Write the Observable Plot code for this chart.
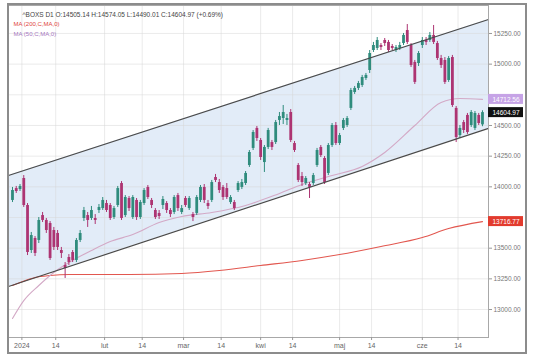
<!DOCTYPE html>
<html><head><meta charset="utf-8">
<script src="https://cdn.jsdelivr.net/npm/d3@7"></script>
<script src="https://cdn.jsdelivr.net/npm/@observablehq/plot@0.6"></script>
<style>
html,body{margin:0;padding:0;background:#fff;}
#wrap{position:relative;width:536px;height:362px;overflow:hidden;}
#frame{position:absolute;left:7px;top:3px;width:520px;height:351px;box-sizing:border-box;border:2px solid #8c8c8c;pointer-events:none;}
</style></head><body>
<div id="wrap"><div id="chart"></div><div id="frame"></div></div>
<script>
// ---- data ----
const open = [13889,13986,13978,14068,13848,13481,13579,13563,13766,13726,
13701,13644,13620,13481,13359,13424,13465,13400,13563,13742,
13766,13742,13742,13807,13823,13864,13848,13750,13848,14027,
13766,13905,13750,13889,13750,13864,13995,13889,13807,13783,
13848,13864,13807,13791,13929,13791,13905,13823,13774,13783,
13889,13995,13864,13889,14076,14035,13995,13986,13872,13872,
13970,13995,14027,14174,14313,14476,14378,14198,14321,14361,
14361,14541,14557,14541,14606,14353,14174,14084,14027,14019,
14027,14174,14321,14231,14109,14337,14500,14353,14476,14500,
14639,14769,14802,14826,14883,14948,15111,15128,15152,15193,
15177,15144,15111,15128,15168,15274,15152,15014,15005,15152,
15193,15193,15234,15168,15046,15030,14867,15054,14639,14418,
14524,14582,14500,14476,14582,14505.14];
const high = [13995,14003,14019,14092,13864,13628,13595,13750,13791,13742,
13717,13669,13644,13506,13383,13448,13481,13579,13644,13832,
13791,13840,13774,13856,13913,13889,13864,13840,14003,14043,
13929,13921,13929,13905,13889,13986,14011,13905,13823,13807,
13921,13880,13823,13929,13946,13848,13921,13921,13791,13929,
14011,14019,13889,14052,14101,14060,14011,14027,13929,13889,
14043,14060,14125,14296,14459,14492,14394,14337,14476,14378,
14541,14606,14663,14590,14630,14370,14190,14117,14084,14035,
14109,14313,14337,14247,14353,14516,14524,14435,14557,14573,
14802,14818,14859,14908,14924,15111,15177,15217,15168,15209,
15193,15160,15152,15177,15250,15323,15168,15030,15103,15217,
15217,15258,15315,15185,15071,15054,15062,15071,14655,14500,
14541,14598,14622,14614,14598,14620];
const low = [13872,13946,13962,13832,13440,13457,13432,13538,13709,13620,
13400,13481,13481,13416,13253,13359,13383,13383,13546,13717,
13669,13726,13693,13783,13807,13791,13726,13734,13832,13726,
13750,13799,13734,13726,13734,13848,13897,13823,13734,13734,
13815,13783,13750,13774,13799,13774,13832,13807,13717,13766,
13872,13864,13815,13872,14035,13946,13889,13897,13856,13807,
13954,13978,14011,14158,14296,14370,14215,14117,14304,14296,
14345,14500,14508,14500,14361,14280,14035,14003,14011,13905,
14011,14158,14239,14019,14092,14321,14337,14337,14459,14484,
14622,14753,14785,14810,14867,14924,15095,15111,15111,15144,
15095,15111,15095,15111,15152,15160,14973,14834,14981,15128,
15152,15177,15160,15030,14965,14834,14851,14647,14361,14394,
14435,14427,14484,14459,14500,14490.01];
const close = [13970,13962,14003,13848,13465,13603,13457,13726,13726,13644,
13416,13506,13506,13457,13334,13383,13400,13563,13620,13807,
13726,13807,13726,13832,13889,13807,13742,13823,13986,13742,
13913,13823,13913,13750,13872,13970,13913,13848,13750,13758,
13897,13807,13774,13913,13823,13823,13848,13905,13750,13913,
13995,13889,13840,14035,14052,13970,13913,13913,13913,13823,
14027,14035,14109,14280,14443,14394,14239,14321,14459,14321,
14524,14573,14606,14557,14378,14296,14052,14035,14068,13995,
14092,14296,14255,14035,14337,14500,14353,14418,14541,14557,
14785,14802,14842,14891,14908,15087,15152,15193,15136,15168,
15111,15128,15136,15152,15234,15177,14989,14851,15087,15193,
15177,15234,15177,15046,14989,14851,15046,14663,14402,14476,
14459,14443,14606,14598,14516,14604.97];

const ma200Idx = [0,2,6,10,15,31,45,55,66,77,87,98,109,116,125];
const ma200 = [13196,13220,13261,13277,13285,13285,13294,13318,13359,13400,13448,13514,13587,13660,13716.77];
const ma50Idx = [0,3,7,11,15,21,26,32,39,45,53,62,71,77,85,93,99,107,114,119,125];
const ma50 = [12927,13073,13196,13302,13383,13481,13554,13611,13709,13758,13791,13848,13946,14019,14092,14166,14280,14500,14688,14720,14712.56];

const channelIdx = [-1.06, 126.6];
const channelUpper = [14092, 15364];
const channelLower = [13188, 14476];

const xTickIdx = [2.5, 11.5, 24.5, 34.5, 45.5, 55.5, 66, 74.5, 87, 95.5, 109, 118.5];
const xTickLabels = ["2024","14","lut","14","mar","14","kwi","14","maj","14","cze","14"];
const yTicks = [13000,13250,13500,13750,14000,14250,14500,14750,15000,15250];

const headerText = "^BOXS D1 O:14505.14 H:14574.05 L:14490.01 C:14604.97 (+0.69%)";
const legendMA200 = "MA (200,C,MA,0)";
const legendMA50 = "MA (50,C,MA,0)";

// ---- chart ----
const UP = "#2f8c7d", DOWN = "#ad3472";
const xDom = [channelIdx[0], channelIdx[1]];
const yDom = [12772, 15478];
const candles = close.map((c, i) => ({i, o: open[i], h: high[i], l: low[i], c, col: c >= open[i] ? UP : DOWN}));
const chanRows = channelIdx.map((x, k) => ({x, lo: channelLower[k], up: channelUpper[k]}));
const ma200Rows = ma200Idx.map((x, k) => ({x, v: ma200[k]}));
const ma50Rows = ma50Idx.map((x, k) => ({x, v: ma50[k]}));
const priceLabels = [
  {v: ma50[ma50.length - 1], bg: "#c6a3e6"},
  {v: close[close.length - 1], bg: "#111111"},
  {v: ma200[ma200.length - 1], bg: "#e23b2e"}
];
// tick labels hidden under the price boxes are not drawn (as in the reference)
const labelTicks = yTicks.filter(t => priceLabels.every(p => Math.abs(p.v - t) > 60));
const fmt = d3.format(".2f");

const chart = Plot.plot({
  width: 536, height: 362,
  marginLeft: 8, marginRight: 48, marginTop: 5, marginBottom: 25,
  x: {domain: xDom},
  y: {domain: yDom},
  color: {type: "identity"},
  style: {fontFamily: "'Liberation Sans', Arial, sans-serif", background: "transparent", overflow: "visible"},
  marks: [
    Plot.areaY(chanRows, {x: "x", y1: "lo", y2: "up", fill: "#e2ecf8"}),
    Plot.gridX(xTickIdx, {stroke: "#d8d8d8", strokeOpacity: 0.5}),
    Plot.gridY(yTicks, {stroke: "#d8d8d8", strokeOpacity: 0.5}),
    Plot.line(ma200Rows, {x: "x", y: "v", stroke: "#e2574f", strokeWidth: 1.1, curve: "monotone-x", clip: true}),
    Plot.line(ma50Rows, {x: "x", y: "v", stroke: "#d3a9c6", strokeWidth: 1.1, curve: "monotone-x", clip: true}),
    Plot.ruleX(candles, {x: "i", y1: "l", y2: "h", stroke: "col", strokeWidth: 1}),
    Plot.ruleX(candles, {x: "i", y1: "o", y2: "c", stroke: "col", strokeWidth: 2.8}),
    Plot.line(chanRows, {x: "x", y: "up", stroke: "#4a4a4a", strokeWidth: 1.2}),
    Plot.line(chanRows, {x: "x", y: "lo", stroke: "#4a4a4a", strokeWidth: 1.2}),
    Plot.frame({stroke: "#a8a8a8"}),
    Plot.axisX({ticks: xTickIdx, tickFormat: d => xTickLabels[xTickIdx.indexOf(d)], tickSize: 3, tickPadding: 3, fontSize: 7, fill: "#666", stroke: "#999", label: null}),
    Plot.axisY({anchor: "right", ticks: yTicks, tickFormat: null, text: null, tickSize: 3, stroke: "#999", label: null}),
    Plot.axisY({anchor: "right", ticks: labelTicks, tickFormat: fmt, tickSize: 0, tickPadding: 5, fontSize: 6.5, fill: "#777", label: null}),
    Plot.rect(priceLabels, {x1: () => xDom[1], x2: () => xDom[1], y1: "v", y2: "v", insetRight: -35, insetTop: -5, insetBottom: -5, fill: "bg"}),
    Plot.text(priceLabels, {x: () => xDom[1], y: "v", text: d => fmt(d.v), dx: 17.5, fill: "white", fontSize: 6.5, textAnchor: "middle"}),
    Plot.text([headerText], {frameAnchor: "top-left", dx: 14, dy: 7, text: d => d, fontSize: 6.5, fill: "#444"}),
    Plot.text([legendMA200], {frameAnchor: "top-left", dx: 5, dy: 16, text: d => d, fontSize: 6, fill: "#e0453c"}),
    Plot.text([legendMA50], {frameAnchor: "top-left", dx: 5, dy: 26, text: d => d, fontSize: 6, fill: "#a678c0"})
  ]
});
document.getElementById("chart").appendChild(chart);
</script>
</body></html>
